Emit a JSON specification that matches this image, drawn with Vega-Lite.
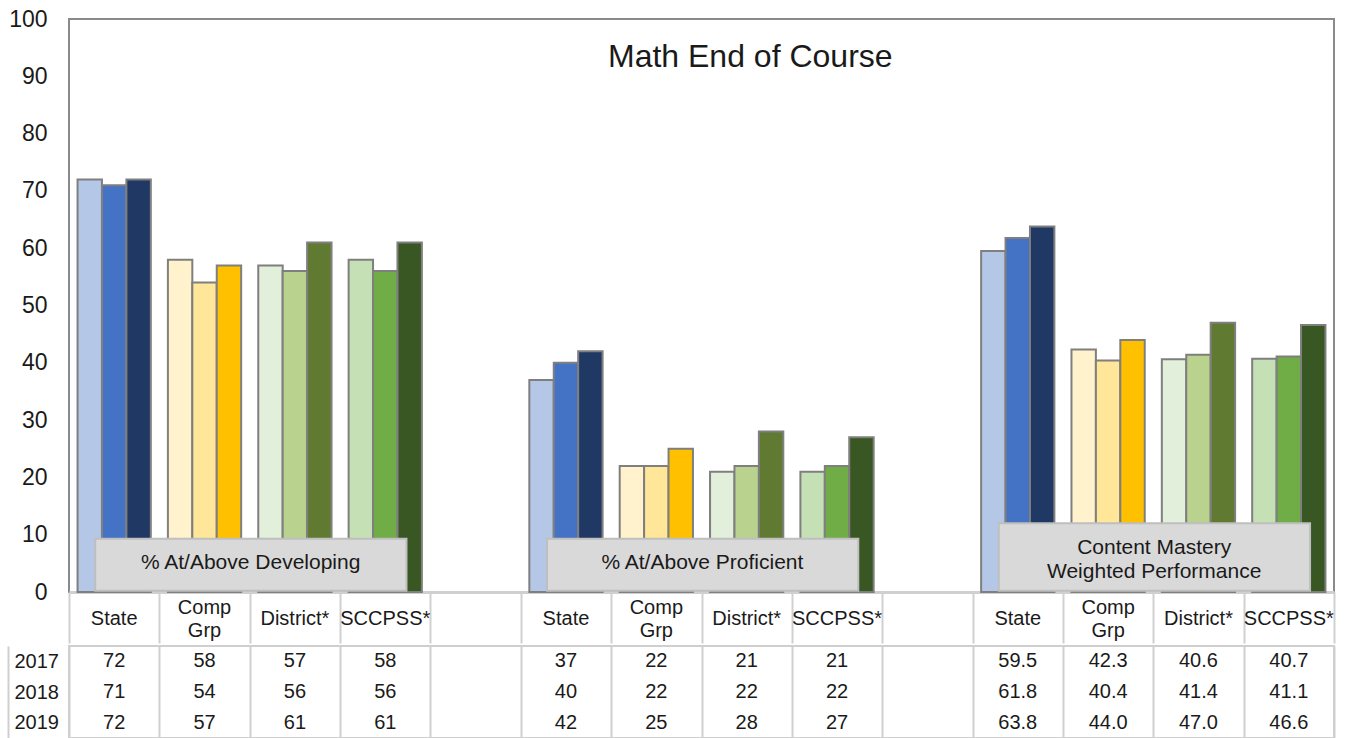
{
  "$schema": "https://vega.github.io/schema/vega-lite/v6.json",
  "background": "white",
  "padding": {"left": 7, "top": 7, "right": 0, "bottom": 0},
  "spacing": 0,
  "config": {
    "font": "Liberation Sans",
    "view": {"stroke": "#8a8a8a", "strokeWidth": 2},
    "axis": {"labelFont": "Liberation Sans", "labelColor": "#000000", "titleFont": "Liberation Sans"},
    "text": {"font": "Liberation Sans", "color": "#000000"}
  },
  "datasets": {
    "scores": [
      {"m": "Developing", "e": "State", "year": "2017", "v": 72},
      {"m": "Developing", "e": "State", "year": "2018", "v": 71},
      {"m": "Developing", "e": "State", "year": "2019", "v": 72},
      {"m": "Developing", "e": "Comp Grp", "year": "2017", "v": 58},
      {"m": "Developing", "e": "Comp Grp", "year": "2018", "v": 54},
      {"m": "Developing", "e": "Comp Grp", "year": "2019", "v": 57},
      {"m": "Developing", "e": "District*", "year": "2017", "v": 57},
      {"m": "Developing", "e": "District*", "year": "2018", "v": 56},
      {"m": "Developing", "e": "District*", "year": "2019", "v": 61},
      {"m": "Developing", "e": "SCCPSS*", "year": "2017", "v": 58},
      {"m": "Developing", "e": "SCCPSS*", "year": "2018", "v": 56},
      {"m": "Developing", "e": "SCCPSS*", "year": "2019", "v": 61},
      {"m": "Proficient", "e": "State", "year": "2017", "v": 37},
      {"m": "Proficient", "e": "State", "year": "2018", "v": 40},
      {"m": "Proficient", "e": "State", "year": "2019", "v": 42},
      {"m": "Proficient", "e": "Comp Grp", "year": "2017", "v": 22},
      {"m": "Proficient", "e": "Comp Grp", "year": "2018", "v": 22},
      {"m": "Proficient", "e": "Comp Grp", "year": "2019", "v": 25},
      {"m": "Proficient", "e": "District*", "year": "2017", "v": 21},
      {"m": "Proficient", "e": "District*", "year": "2018", "v": 22},
      {"m": "Proficient", "e": "District*", "year": "2019", "v": 28},
      {"m": "Proficient", "e": "SCCPSS*", "year": "2017", "v": 21},
      {"m": "Proficient", "e": "SCCPSS*", "year": "2018", "v": 22},
      {"m": "Proficient", "e": "SCCPSS*", "year": "2019", "v": 27},
      {"m": "Mastery", "e": "State", "year": "2017", "v": 59.5},
      {"m": "Mastery", "e": "State", "year": "2018", "v": 61.8},
      {"m": "Mastery", "e": "State", "year": "2019", "v": 63.8},
      {"m": "Mastery", "e": "Comp Grp", "year": "2017", "v": 42.3},
      {"m": "Mastery", "e": "Comp Grp", "year": "2018", "v": 40.4},
      {"m": "Mastery", "e": "Comp Grp", "year": "2019", "v": 44.0},
      {"m": "Mastery", "e": "District*", "year": "2017", "v": 40.6},
      {"m": "Mastery", "e": "District*", "year": "2018", "v": 41.4},
      {"m": "Mastery", "e": "District*", "year": "2019", "v": 47.0},
      {"m": "Mastery", "e": "SCCPSS*", "year": "2017", "v": 40.7},
      {"m": "Mastery", "e": "SCCPSS*", "year": "2018", "v": 41.1},
      {"m": "Mastery", "e": "SCCPSS*", "year": "2019", "v": 46.6}
    ],
    "boxes": [
      {"m": "Developing", "label": "% At/Above Developing", "from": "Developing|State", "to": "Developing|SCCPSS*"},
      {"m": "Proficient", "label": "% At/Above Proficient", "from": "Proficient|State", "to": "Proficient|SCCPSS*"},
      {"m": "Mastery", "label": "Content Mastery\nWeighted Performance", "from": "Mastery|State", "to": "Mastery|SCCPSS*"}
    ]
  },
  "vconcat": [
    {
      "width": 1265,
      "height": 573,
      "layer": [
        {
          "data": {"name": "scores"},
          "transform": [
            {"calculate": "datum.m + '|' + datum.e", "as": "col"},
            {"calculate": "datum.e + ' ' + datum.year", "as": "key"}
          ],
          "mark": {"type": "bar", "stroke": "#7f7f7f", "strokeWidth": 2},
          "encoding": {
            "x": {
              "field": "col", "type": "nominal", "sort": null, "title": null,
              "scale": {
                "domain": ["Developing|State", "Developing|Comp Grp", "Developing|District*", "Developing|SCCPSS*", "Developing|",
                           "Proficient|State", "Proficient|Comp Grp", "Proficient|District*", "Proficient|SCCPSS*", "Proficient|",
                           "Mastery|State", "Mastery|Comp Grp", "Mastery|District*", "Mastery|SCCPSS*"],
                "paddingInner": 0, "paddingOuter": 0
              },
              "axis": {
                "orient": "bottom", "title": null, "labels": false,
                "domain": true, "domainColor": "#d0d0d0", "domainWidth": 3,
                "ticks": true, "tickBand": "extent", "tickSize": 51, "tickColor": "#d0d0d0", "tickWidth": 2
              }
            },
            "xOffset": {"field": "year", "type": "nominal", "scale": {"paddingInner": 0, "paddingOuter": 0.35}},
            "y": {
              "field": "v", "type": "quantitative", "title": null,
              "scale": {"domain": [0, 100], "nice": false},
              "axis": {"values": [0, 10, 20, 30, 40, 50, 60, 70, 80, 90, 100], "ticks": false, "domain": false, "grid": false,
                       "labelFontSize": 23, "labelPadding": 22, "title": null, "labelColor": "#1a1a1a"}
            },
            "color": {
              "field": "key", "type": "nominal", "legend": null,
              "scale": {
                "domain": ["State 2017", "State 2018", "State 2019", "Comp Grp 2017", "Comp Grp 2018", "Comp Grp 2019",
                           "District* 2017", "District* 2018", "District* 2019", "SCCPSS* 2017", "SCCPSS* 2018", "SCCPSS* 2019"],
                "range": ["#B4C7E7", "#4472C4", "#203864", "#FFF2CC", "#FFE699", "#FFC000",
                          "#E2EFDA", "#B9D38F", "#607B31", "#C5E0B4", "#70AD47", "#385723"]
              }
            }
          }
        },
        {
          "data": {"name": "scores"},
          "transform": [
            {"filter": "datum.year == '2017' && datum.e != 'Comp Grp'"},
            {"calculate": "datum.m + '|' + datum.e", "as": "col"}
          ],
          "mark": {"type": "text", "fontSize": 20, "align": "center", "baseline": "middle", "color": "#1a1a1a"},
          "encoding": {
            "x": {"field": "col", "type": "nominal", "title": null},
            "y": {"datum": -4.7, "type": "quantitative"},
            "text": {"field": "e"}
          }
        },
        {
          "data": {"name": "scores"},
          "transform": [
            {"filter": "datum.year == '2017' && datum.e == 'Comp Grp'"},
            {"calculate": "datum.m + '|' + datum.e", "as": "col"}
          ],
          "mark": {"type": "text", "fontSize": 20, "align": "center", "baseline": "middle", "lineBreak": " ", "lineHeight": 23, "color": "#1a1a1a"},
          "encoding": {
            "x": {"field": "col", "type": "nominal", "title": null},
            "y": {"datum": -2.75, "type": "quantitative"},
            "text": {"field": "e"}
          }
        },
        {
          "data": {"name": "boxes"},
          "transform": [{"filter": "datum.m != 'Mastery'"}],
          "mark": {"type": "rect", "fill": "#D9D9D9", "stroke": "#BFBFBF", "strokeWidth": 2},
          "encoding": {
            "x": {"field": "from", "type": "nominal", "bandPosition": 0.29, "title": null},
            "x2": {"field": "to", "bandPosition": 0.735},
            "y": {"datum": 9.3, "type": "quantitative"},
            "y2": {"datum": 0.2}
          }
        },
        {
          "data": {"name": "boxes"},
          "transform": [{"filter": "datum.m == 'Mastery'"}],
          "mark": {"type": "rect", "fill": "#D9D9D9", "stroke": "#BFBFBF", "strokeWidth": 2},
          "encoding": {
            "x": {"field": "from", "type": "nominal", "bandPosition": 0.29, "title": null},
            "x2": {"field": "to", "bandPosition": 0.735},
            "y": {"datum": 12, "type": "quantitative"},
            "y2": {"datum": 0.2}
          }
        },
        {
          "data": {"name": "boxes"},
          "transform": [{"filter": "datum.m != 'Mastery'"}],
          "mark": {"type": "text", "fontSize": 21, "align": "center", "baseline": "middle", "color": "#1a1a1a"},
          "encoding": {
            "x": {"field": "from", "type": "nominal", "bandPosition": 2.01, "title": null},
            "y": {"datum": 5.0, "type": "quantitative"},
            "text": {"field": "label"}
          }
        },
        {
          "data": {"name": "boxes"},
          "transform": [{"filter": "datum.m == 'Mastery'"}],
          "mark": {"type": "text", "fontSize": 21, "align": "center", "baseline": "middle", "lineBreak": "\n", "lineHeight": 24, "color": "#1a1a1a"},
          "encoding": {
            "x": {"field": "from", "type": "nominal", "bandPosition": 2.01, "title": null},
            "y": {"datum": 7.7, "type": "quantitative"},
            "text": {"field": "label"}
          }
        },
        {
          "data": {"values": [{"t": "Math End of Course"}]},
          "mark": {"type": "text", "fontSize": 32, "align": "center", "baseline": "middle", "color": "#1a1a1a"},
          "encoding": {
            "x": {"datum": "Proficient|District*", "type": "nominal", "bandPosition": 0.54, "title": null},
            "y": {"datum": 93.4, "type": "quantitative"},
            "text": {"field": "t"}
          }
        }
      ]
    },
    {
      "width": 1265,
      "height": 92,
      "view": {"stroke": "#cfcfcf", "strokeWidth": 2},
      "data": {"name": "scores"},
      "transform": [
        {"calculate": "datum.m + '|' + datum.e", "as": "col"},
        {"calculate": "datum.m == 'Mastery' ? format(datum.v, '.1f') : format(datum.v, 'd')", "as": "label"}
      ],
      "mark": {"type": "text", "fontSize": 20, "align": "center", "baseline": "middle", "color": "#1a1a1a"},
      "encoding": {
        "x": {
          "field": "col", "type": "nominal", "sort": null, "title": null,
          "scale": {
            "domain": ["Developing|State", "Developing|Comp Grp", "Developing|District*", "Developing|SCCPSS*", "Developing|",
                       "Proficient|State", "Proficient|Comp Grp", "Proficient|District*", "Proficient|SCCPSS*", "Proficient|",
                       "Mastery|State", "Mastery|Comp Grp", "Mastery|District*", "Mastery|SCCPSS*"],
            "paddingInner": 0, "paddingOuter": 0
          },
          "axis": {"orient": "top", "title": null, "labels": false, "ticks": false, "domain": false,
                   "grid": true, "tickBand": "extent", "gridColor": "#cfcfcf", "gridWidth": 2}
        },
        "y": {
          "field": "year", "type": "nominal", "title": null,
          "scale": {"paddingInner": 0, "paddingOuter": 0},
          "axis": {"orient": "left", "title": null, "offset": 61, "domain": true, "domainColor": "#cfcfcf", "domainWidth": 2,
                   "ticks": false, "tickSize": 0, "grid": false, "labelAlign": "left", "labelPadding": -6,
                   "labelFontSize": 20, "labelBaseline": "middle", "labelColor": "#1a1a1a"}
        },
        "text": {"field": "label"}
      }
    }
  ]
}
